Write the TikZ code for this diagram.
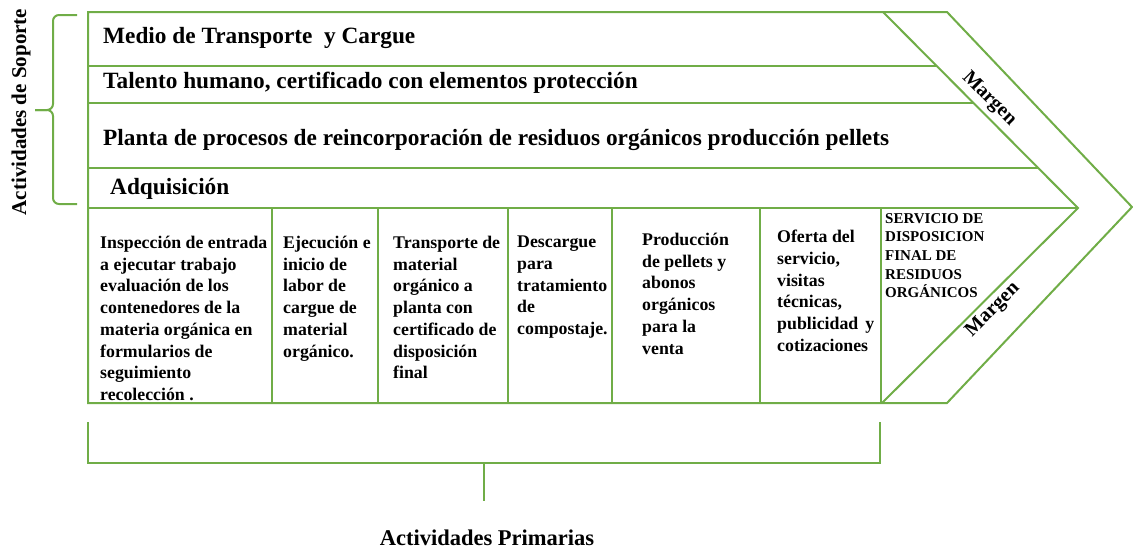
\documentclass[tikz,border=0pt]{standalone}
\usepackage{fontspec}
\setmainfont{Liberation Serif}
\definecolor{chaingreen}{RGB}{112,173,71}
\tikzset{
	chain line/.style = {draw = chaingreen, line width = 2pt},
	row text/.style = {anchor = west, inner sep = 0pt, font = \fontsize{23.3}{28}\selectfont\bfseries},
	col text/.style = {anchor = north west, inner sep = 0pt, align = left, font = \fontsize{17.8}{21.7}\selectfont\bfseries},
	margin text/.style = {inner sep = 0pt, font = \fontsize{20}{24}\selectfont\bfseries},
	side text/.style = {inner sep = 0pt, font = \fontsize{21}{25}\selectfont\bfseries}
}
\begin{document}
\begin{tikzpicture}[x = 1pt, y = -1pt]
		\useasboundingbox (0,0) rectangle (1133,550);
		
		% outer chevron and inner margin line
		\draw[chain line] (88,12) -- (947,12) -- (1132,207) -- (947,403) -- (88,403) -- cycle;
		\draw[chain line] (883,12) -- (1078,208) -- (882,403);
		
		% support rows
		\draw[chain line] (88,66) -- (937,66);
		\draw[chain line] (88,103) -- (974,103);
		\draw[chain line] (88,168) -- (1039,168);
		\draw[chain line] (88,208) -- (1078,208);
		
		% primary columns
		\foreach \x in {272,378,508,612,760,881}
			\draw[chain line] (\x,208) -- (\x,403);
		
		\node[row text] (transporte) at (103,38) {Medio de Transporte\ \ y Cargue};
		\node[row text] (talento) at (103,83) {Talento humano, certificado con elementos protección};
		\node[row text] (planta) at (103,140) {Planta de procesos de reincorporación de residuos orgánicos producción pellets};
		\node[row text] (adquisicion) at (110,189) {Adquisición};
		
		\node[col text] (inspeccion) at (100,236) {Inspección de entrada\\a ejecutar trabajo\\evaluación de los\\contenedores de la\\materia orgánica en\\formularios de\\seguimiento\\recolección .};
		\node[col text] (ejecucion) at (283,236) {Ejecución e\\inicio de\\labor de\\cargue de\\material\\orgánico.};
		\node[col text] (traslado) at (393,236) {Transporte de\\material\\orgánico a\\planta con\\certificado de\\disposición\\final};
		\node[col text] (descargue) at (517,236) {Descargue\\para\\tratamiento\\de\\compostaje.};
		\node[col text] (produccion) at (642,233) {Producción\\de pellets y\\abonos\\orgánicos\\para la\\venta};
		\node[col text] (oferta) at (777,230) {Oferta del\\servicio,\\visitas\\técnicas,\\publicidad\hspace{0.4em}y\\cotizaciones};
		\node[anchor = north west, inner sep = 0pt, align = left, font = \fontsize{15}{18.7}\selectfont\bfseries] (servicio) at (885,213) {SERVICIO DE\\DISPOSICION\\FINAL DE\\RESIDUOS\\ORGÁNICOS};
		
		\node[margin text, rotate = -45] (margen top) at (989,99) {Margen};
		\node[margin text, rotate = 45] (margen bottom) at (993,310) {Margen};
		
		% support brace
		\draw[chain line, rounded corners = 6pt] (77,15) -- (53,15) -- (53,110) -- (35,110);
		\draw[chain line, rounded corners = 6pt] (35,110) -- (53,110) -- (53,204) -- (77,204);
		\node[side text, rotate = 90] (soporte) at (21,112) {Actividades de Soporte};
		
		% primary bracket
		\coordinate (brace mid) at (484,463);
		\coordinate (brace end) at (484,501);
		\draw[chain line] (88,422) -- (88,463) -- (880,463) -- (880,422);
		\draw[chain line] (brace mid) -- (brace end);
		\node[side text, font = \fontsize{22.5}{27}\selectfont\bfseries] (primarias) at (487,538) {Actividades Primarias};
	\end{tikzpicture}
\end{document}
